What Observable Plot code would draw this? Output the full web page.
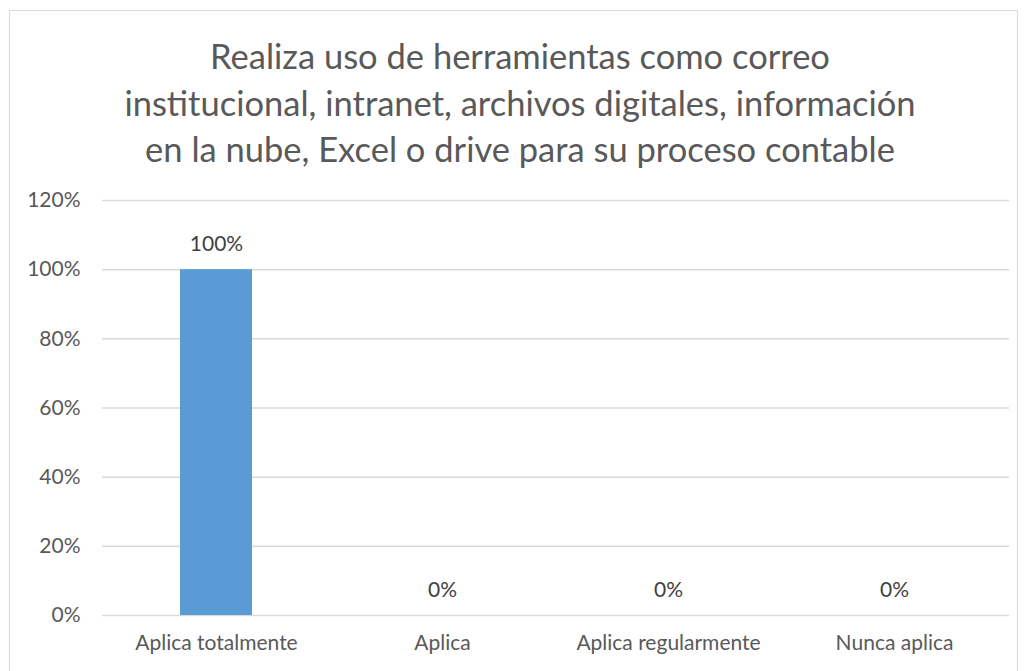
<!DOCTYPE html>
<html>
<head>
<meta charset="utf-8">
<script src="https://cdn.jsdelivr.net/npm/d3@7"></script>
<script src="https://cdn.jsdelivr.net/npm/@observablehq/plot@0.6"></script>
<style>
  html, body { margin: 0; padding: 0; background: #fff; width: 1024px; height: 671px; overflow: hidden; }
  #frame { position: absolute; left: 9px; top: 10px; width: 1009px; height: 700px; border: 1px solid #d9d9d9; box-sizing: border-box; }
  #title { position: absolute; left: 0; top: 33px; width: 1040px; text-align: center; font-family: Lato, "Open Sans", sans-serif; font-size: 34.5px; line-height: 46.5px; color: #595959; }
  #chart { position: absolute; left: 0; top: 180px; }
  #chart svg { font-family: Lato, "Open Sans", sans-serif; }
</style>
</head>
<body>
<div id="frame"></div>
<div id="title">Realiza uso de herramientas como correo<br>institucional, intranet, archivos digitales, información<br>en la nube, Excel o drive para su proceso contable</div>
<div id="chart"></div>
<script>
const categories = ["Aplica totalmente", "Aplica", "Aplica regularmente", "Nunca aplica"];
const values = [1.0, 0.0, 0.0, 0.0];
const yTicks = [0, 0.2, 0.4, 0.6, 0.8, 1.0, 1.2];

const data = categories.map((c, i) => ({category: c, value: values[i]}));
const pct = v => Math.round(v * 100) + "%";

const chart = Plot.plot({
  width: 1024,
  height: 491,
  marginTop: 20,
  marginBottom: 56,
  marginLeft: 102,
  marginRight: 15,
  style: {fontSize: "21px", color: "#595959", background: "transparent"},
  x: {domain: categories, padding: 0.68, paddingOuter: 0.34, label: null, tickSize: 0, tickPadding: 20},
  y: {domain: [0, 1.2], ticks: yTicks, tickFormat: pct, label: null, tickSize: 0, tickPadding: 22},
  marks: [
    Plot.gridY(yTicks, {stroke: "#d9d9d9", strokeOpacity: 1, strokeWidth: 1.5}),
    Plot.barY(data, {x: "category", y: "value", fill: "#5b9bd5"}),
    Plot.text(data, {x: "category", y: "value", text: d => pct(d.value), dy: -25, fill: "#404040", fontSize: 21})
  ]
});
document.getElementById("chart").appendChild(chart);
</script>
</body>
</html>
